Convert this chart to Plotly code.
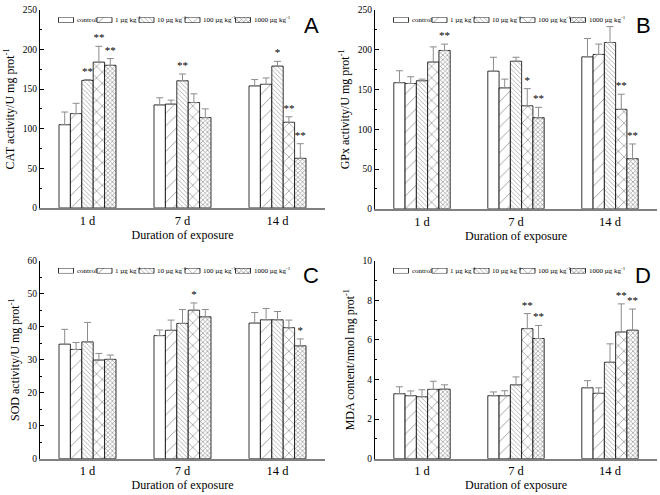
import plotly.graph_objects as go

W, H = 660, 495

days = ["1 d", "7 d", "14 d"]
doses = ["control", "1 µg kg<sup>-1</sup>", "10 µg kg<sup>-1</sup>",
         "100 µg kg<sup>-1</sup>", "1000 µg kg<sup>-1</sup>"]

# rows = dose groups (control ... 1000), columns = 1 d, 7 d, 14 d
cat_mean = [[105, 130, 154], [119, 131, 156], [161, 160.5, 179], [184, 133, 108], [180, 114, 62.5]]
cat_sd = [[16, 9, 8], [13, 5, 8], [1, 8.5, 6], [20, 11, 7], [8.5, 11, 18.5]]
cat_sig = [["", "", ""], ["", "", ""], ["**", "**", "*"], ["**", "", "**"], ["**", "", "**"]]

gpx_mean = [[158.5, 173, 191], [157.5, 152, 194], [161, 185.5, 209], [184.5, 129.5, 125], [199, 114.5, 63]]
gpx_sd = [[15, 17.5, 23], [8.5, 11, 13], [2, 5, 20], [19, 21.5, 19], [8, 13, 18.5]]
gpx_sig = [["", "", ""], ["", "", ""], ["", "", ""], ["", "*", "**"], ["**", "**", "**"]]

sod_mean = [[34.7, 37.3, 41.1], [33.1, 38.9, 42.1], [35.4, 41.0, 42.1], [29.9, 45.0, 39.7], [30.1, 43.0, 34.2]]
sod_sd = [[4.5, 1.7, 3.2], [2.1, 3.1, 3.4], [5.9, 4.2, 2.5], [2.0, 2.2, 2.3], [1.3, 2.2, 2.1]]
sod_sig = [["", "", ""], ["", "", ""], ["", "", ""], ["", "*", ""], ["", "", "*"]]

mda_mean = [[3.28, 3.18, 3.58], [3.18, 3.18, 3.30], [3.13, 3.73, 4.87], [3.50, 6.57, 6.40], [3.51, 6.07, 6.49]]
mda_sd = [[0.35, 0.19, 0.36], [0.24, 0.25, 0.28], [0.35, 0.40, 0.93], [0.41, 0.76, 1.42], [0.22, 0.66, 1.07]]
mda_sig = [["", "", ""], ["", "", ""], ["", "", ""], ["", "**", "**"], ["", "**", "**"]]

panels = [
    ("A", "CAT activity/U mg prot<sup>-1</sup>", cat_mean, cat_sd, cat_sig, 250, 50),
    ("B", "GPx activity/U mg prot<sup>-1</sup>", gpx_mean, gpx_sd, gpx_sig, 250, 50),
    ("C", "SOD activity/U mg prot<sup>-1</sup>", sod_mean, sod_sd, sod_sig, 60, 10),
    ("D", "MDA content/nmol mg prot<sup>-1</sup>", mda_mean, mda_sd, mda_sig, 10, 2),
]

# plot areas in pixels: left, right, top, bottom
boxes = [(40, 325, 5, 207), (375, 657, 5, 208), (40, 325, 261, 463), (375, 657, 261, 463)]

# hatch for each dose group
pat_shape = ["", "/", "\\", "x", "x"]
pat_size = [8, 9, 3.2, 8, 3.2]
pat_solid = [0.1, 0.1, 0.22, 0.18, 0.4]

# legend swatch offsets (px from the y axis)
leg_pos = [18.5, 57, 99, 145, 195.5]
SW = 15

SERIF = "Liberation Serif"
fig = go.Figure()
annotations = []


def xd(l, r):
    return [l / W, r / W]


def yd(t, b):
    return [1 - b / H, 1 - t / H]


layout = {}
for p, (letter, ytitle, mean, sd, sig, ymax, dt) in enumerate(panels):
    l, r, t, b = boxes[p]
    n = p + 1
    xa = "x" if n == 1 else f"x{n}"
    ya = "y" if n == 1 else f"y{n}"
    for k in range(5):
        fig.add_trace(go.Bar(
            x=days, y=mean[k], xaxis=xa, yaxis=ya, offsetgroup=str(k),
            marker=dict(color="white", line=dict(color="black", width=0.8),
                        pattern=dict(shape=pat_shape[k], size=pat_size[k],
                                     solidity=pat_solid[k], fgcolor="#333333")),
            error_y=dict(type="data", array=sd[k], arrayminus=[0] * len(days),
                         symmetric=False, color="#8c8c8c", thickness=1, width=3.5),
            showlegend=False, name=doses[k],
        ))
        # invisible bars reaching the error-bar tops, carrying the significance stars
        idx = [i for i, s in enumerate(sig[k]) if s]
        if idx:
            star_font = dict(size=11, color="black", family=SERIF)
            fig.add_trace(go.Bar(
                x=[days[i] for i in idx], y=[mean[k][i] + sd[k][i] for i in idx],
                xaxis=xa, yaxis=ya, offsetgroup=str(k),
                text=[sig[k][i] for i in idx], textposition="outside",
                textfont=star_font, outsidetextfont=star_font, constraintext="none",
                cliponaxis=False, marker=dict(color="rgba(0,0,0,0)", line=dict(width=0)),
                hoverinfo="skip", showlegend=False,
            ))

    layout[f"xaxis{n}"] = dict(
        domain=xd(l, r), anchor=ya, type="category", range=[-0.5, 2.5],
        categoryorder="array", categoryarray=days,
        showline=True, linecolor="#808080", linewidth=1.5, ticks="",
        showgrid=False, zeroline=False, tickfont=dict(size=12.5),
        title=dict(text="Duration of exposure", font=dict(size=12), standoff=2),
    )
    layout[f"yaxis{n}"] = dict(
        domain=yd(t, b), anchor=xa, range=[0, ymax], dtick=dt,
        ticks="inside", ticklen=4, tickwidth=1, tickcolor="black",
        minor=dict(ticks="inside", ticklen=2, dtick=dt / 2, tickcolor="black"),
        showline=True, linecolor="black", linewidth=1,
        showgrid=False, zeroline=False, tickfont=dict(size=9.5),
        title=dict(text=ytitle, font=dict(size=12), standoff=5),
    )

    # hand-made legend strip on a hidden overlay axis
    m = p + 5
    lx = f"x{m}"
    ly = f"y{m}"
    fig.add_trace(go.Bar(
        x=[pos + SW / 2 for pos in leg_pos], y=[1] * 5, width=[SW] * 5,
        xaxis=lx, yaxis=ly,
        marker=dict(color="white", line=dict(color="black", width=0.8),
                    pattern=dict(shape=pat_shape, size=pat_size,
                                 solidity=pat_solid, fgcolor="#333333")),
        hoverinfo="skip", showlegend=False,
    ))
    layout[f"xaxis{m}"] = dict(domain=xd(l, r), anchor=ly, range=[0, r - l], visible=False)
    layout[f"yaxis{m}"] = dict(domain=yd(t + 7.5, t + 13), anchor=lx, range=[0, 1], visible=False)
    for k in range(5):
        annotations.append(dict(
            x=leg_pos[k] + SW + 1, y=0.5, xref=lx, yref=ly, text=doses[k],
            showarrow=False, xanchor="left", yanchor="middle",
            font=dict(size=7, family=SERIF, color="black"),
        ))

    annotations.append(dict(
        x=(r - 14) / W, y=1 - (t + 15.5) / H, xref="paper", yref="paper",
        text=letter, showarrow=False, xanchor="center", yanchor="middle",
        font=dict(size=22, family="Liberation Sans", color="black"),
    ))

fig.update_layout(
    width=W, height=H,
    margin=dict(l=0, r=0, t=0, b=0),
    font=dict(family=SERIF, color="black"),
    barmode="group", bargap=0.4, bargroupgap=0,
    plot_bgcolor="white", paper_bgcolor="white",
    annotations=annotations,
    showlegend=False,
    **layout,
)

# fixed-size figure: drop the page's default body margin so it sits at the corner
fig.write_html("out.html", config={"displayModeBar": False},
               post_script="document.body.style.margin='0';")
